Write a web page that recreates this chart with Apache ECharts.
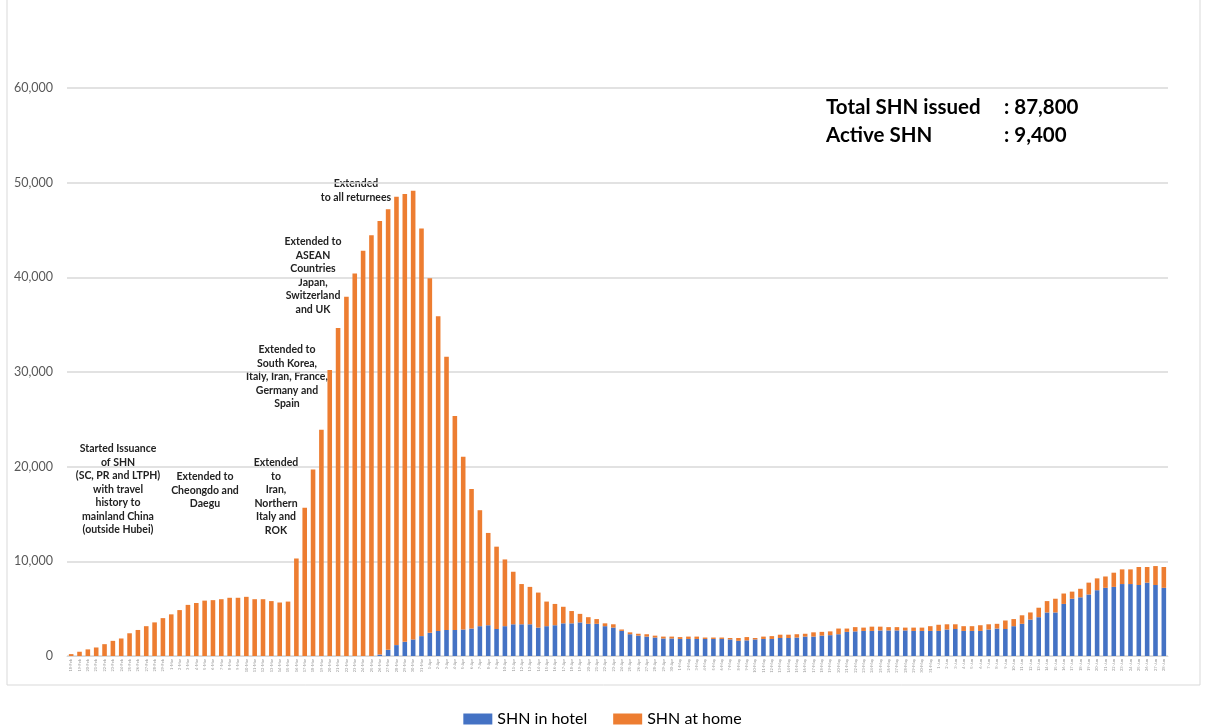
<!DOCTYPE html>
<html>
<head>
<meta charset="utf-8">
<script src="https://cdn.jsdelivr.net/npm/echarts@6/dist/echarts.min.js"></script>
<style>
  html, body { margin: 0; padding: 0; background: #fff; }
  #chart { width: 1205px; height: 728px; }
</style>
</head>
<body>
<div id="chart"></div>
<script>
// daily SHN counts, starting 18 Feb 2020
const startDate = new Date(2020, 1, 18);
const dayCount = 132;
const monthNames = ['Jan', 'Feb', 'Mar', 'Apr', 'May', 'Jun', 'Jul'];

const shnHotel = [
  0, 0, 0, 0, 0, 0, 0, 0, 0, 0,
  0, 0, 0, 0, 0, 0, 0, 0, 0, 0,
  0, 0, 0, 0, 0, 0, 0, 0, 0, 0,
  0, 0, 0, 0, 0, 0, 0, 150, 650, 1150,
  1500, 1750, 2100, 2450, 2650, 2750, 2750, 2800, 2900, 3150,
  3250, 2850, 3150, 3350, 3350, 3350, 3000, 3150, 3250, 3450,
  3450, 3550, 3400, 3400, 3150, 3000, 2650, 2300, 2150, 2050,
  1950, 1850, 1850, 1800, 1800, 1800, 1800, 1800, 1800, 1750,
  1600, 1650, 1750, 1800, 1800, 1900, 1900, 1950, 2050, 2050,
  2150, 2200, 2300, 2550, 2600, 2650, 2650, 2700, 2700, 2700,
  2700, 2650, 2650, 2650, 2650, 2800, 2850, 2650, 2650, 2650,
  2800, 2900, 2850, 3150, 3400, 3850, 4100, 4600, 4600, 5500,
  6050, 6200, 6500, 6950, 7200, 7300, 7600, 7600, 7500, 7750,
  7500, 7200
];

const shnHome = [
  200, 450, 700, 900, 1250, 1600, 1850, 2400, 2750, 3150,
  3550, 4000, 4400, 4850, 5400, 5600, 5850, 5900, 6000, 6150,
  6150, 6250, 6000, 6000, 5800, 5650, 5750, 10300, 15650, 19700,
  23900, 30200, 34650, 37950, 40400, 42800, 44450, 45800, 46550, 47350,
  47300, 47400, 43050, 37450, 33250, 28850, 22600, 18250, 14750, 12250,
  9750, 8700, 7050, 5550, 4250, 3950, 3700, 2600, 2250, 1750,
  1300, 900, 700, 500, 300, 350, 150, 200, 200, 250,
  200, 200, 200, 200, 250, 250, 150, 150, 150, 150,
  300, 350, 150, 250, 300, 350, 350, 350, 300, 450,
  400, 400, 600, 350, 450, 350, 450, 400, 350, 350,
  300, 350, 350, 500, 650, 550, 500, 500, 500, 600,
  550, 500, 900, 750, 900, 750, 1000, 1200, 1450, 1100,
  750, 900, 1250, 1250, 1200, 1500, 1550, 1550, 1900, 1650,
  2000, 2200
];

const yTicks = [0, 10000, 20000, 30000, 40000, 50000, 60000];

const dateLabels = [];
for (let i = 0; i < dayCount; i++) {
  const d = new Date(startDate.getTime() + i * 86400000);
  dateLabels.push(d.getDate() + '-' + monthNames[d.getMonth()]);
}

const notes = [
  { x: 118, y: 442, text: 'Started Issuance\nof SHN\n(SC, PR and LTPH)\nwith travel\nhistory to\nmainland China\n(outside Hubei)' },
  { x: 205, y: 470, text: 'Extended to\nCheongdo and\nDaegu' },
  { x: 276, y: 456, text: 'Extended\nto\nIran,\nNorthern\nItaly and\nROK' },
  { x: 287, y: 343, text: 'Extended to\nSouth Korea,\nItaly, Iran, France,\nGermany and\nSpain' },
  { x: 313, y: 235, text: 'Extended to\nASEAN\nCountries\nJapan,\nSwitzerland\nand UK' },
  { x: 356, y: 177, text: 'Extended\nto all returnees' }
];

const chart = echarts.init(document.getElementById('chart'));

const boxFont = 'bold 20.5px Lato';
const graphics = [
  {
    type: 'rect',
    shape: { x: 7, y: -2, width: 1193, height: 687 },
    style: { fill: 'none', stroke: '#d9d9d9', lineWidth: 1 },
    silent: true
  },
  { type: 'text', left: 826, top: 97, style: { text: 'Total SHN issued', font: boxFont, fill: '#000' } },
  { type: 'text', left: 1004, top: 97, style: { text: ': 87,800', font: boxFont, fill: '#000' } },
  { type: 'text', left: 826, top: 125, style: { text: 'Active SHN', font: boxFont, fill: '#000' } },
  { type: 'text', left: 1004, top: 125, style: { text: ': 9,400', font: boxFont, fill: '#000' } }
];

notes.forEach(function (n) {
  graphics.push({
    type: 'text',
    x: n.x,
    y: n.y,
    style: {
      text: n.text,
      font: 'bold 10.5px Lato',
      fill: '#222',
      align: 'center',
      verticalAlign: 'top',
      lineHeight: 13.5
    }
  });
});

const option = {
  backgroundColor: '#fff',
  animation: false,
  grid: { left: 67, right: 37, top: 88, bottom: 72, containLabel: false },
  legend: {
    top: 706,
    left: 'center',
    itemWidth: 29,
    itemHeight: 11,
    itemGap: 26,
    icon: 'rect',
    textStyle: { fontFamily: 'Lato', fontSize: 16, color: '#000' },
    data: ['SHN in hotel', 'SHN at home']
  },
  xAxis: {
    type: 'category',
    data: dateLabels,
    axisTick: { show: false },
    axisLine: { lineStyle: { color: '#d9d9d9' } },
    axisLabel: {
      interval: 0,
      rotate: 90,
      fontSize: 4,
      color: '#999',
      margin: 3,
      fontFamily: 'Lato'
    }
  },
  yAxis: {
    type: 'value',
    min: yTicks[0],
    max: yTicks[yTicks.length - 1],
    interval: 10000,
    axisLine: { show: false },
    axisTick: { show: false },
    splitLine: { lineStyle: { color: '#d9d9d9', width: 1.5 } },
    axisLabel: {
      margin: 14,
      fontSize: 12.5,
      fontFamily: 'Lato',
      color: '#595959',
      formatter: function (v) { return v.toLocaleString('en-US'); }
    }
  },
  series: [
    {
      name: 'SHN in hotel',
      type: 'bar',
      stack: 'shn',
      data: shnHotel,
      barCategoryGap: '45%',
      itemStyle: { color: '#4472C4' }
    },
    {
      name: 'SHN at home',
      type: 'bar',
      stack: 'shn',
      data: shnHome,
      barCategoryGap: '45%',
      itemStyle: { color: '#ED7D31' }
    }
  ],
  graphic: graphics
};

chart.setOption(option);
</script>
</body>
</html>
